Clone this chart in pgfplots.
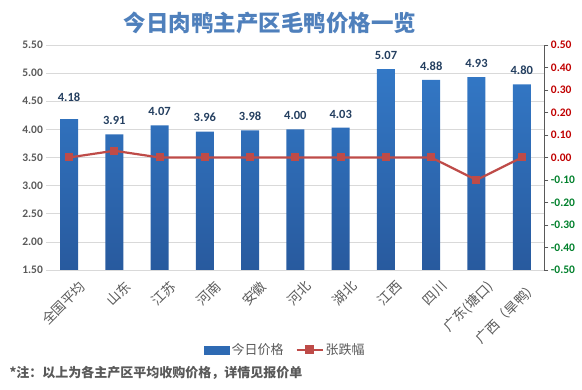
\documentclass[border=0pt]{standalone}
\usepackage{pgfplots}
\pgfplotsset{compat=1.18}
\usepackage{pgfplotstable}
\usepackage{fontspec}
\setmainfont{Noto Sans CJK SC}
\newfontfamily\numfont{Carlito}
\definecolor{barTop}{HTML}{3378C6}
\definecolor{barBot}{HTML}{285A9E}
\definecolor{barblue}{HTML}{2E6AB3}
\definecolor{linered}{HTML}{BE4B48}
\definecolor{titleblue}{HTML}{4F80BC}
\definecolor{labgray}{HTML}{595959}
\definecolor{gridgray}{HTML}{D9D9D9}
\definecolor{valblue}{HTML}{243F60}
\definecolor{posred}{HTML}{C00000}
\definecolor{neggreen}{HTML}{00802B}

\pgfplotstableread{
x price off chg
0 4.18 14 0
1 3.91 6 0.03
2 4.07 6 0
3 3.96 6 0
4 3.98 6 0
5 4.00 6 0
6 4.03 6 0
7 5.07 6 0
8 4.88 6 0
9 4.93 6 -0.10
10 4.80 6 0
}\datatable

\begin{document}
\begin{tikzpicture}
\path[use as bounding box] (0pt,0pt) rectangle (582pt,-390pt);
\begin{axis}[
  at={(46.4pt,-270pt)}, anchor=south west,
  scale only axis, width=498pt, height=225pt,
  xmin=-0.5, xmax=10.5, ymin=1.5, ymax=5.5,
  ytick={1.5,2,2.5,3,3.5,4,4.5,5,5.5},
  /pgf/number format/assume math mode=true,
  yticklabel style={/pgf/number format/.cd, fixed, fixed zerofill, precision=2, /tikz/.cd,
     font=\numfont\bfseries\fontsize{11.5}{13}\selectfont, text=labgray},
  axis y line*=left, y axis line style={draw=none},
  ytick style={draw=none},
  ymajorgrids, grid style={gridgray, line width=0.7pt},
  axis x line*=bottom, x axis line style={gridgray, line width=0.7pt},
  xtick={0,...,10}, xtick style={draw=none},
  xticklabels={全国平均,山东,江苏,河南,安徽,河北,湖北,江西,四川,广东(塘口),广西（旱鸭）},
  xticklabel style={rotate=45, anchor=north east, font=\fontsize{13.5}{15}\selectfont, text=labgray, inner sep=1pt, yshift=-9pt, xshift=4pt},
  ybar, bar width=18pt,
  nodes near coords,
  visualization depends on={\thisrow{off}\as\myoff},
  nodes near coords style={/pgf/number format/.cd, fixed, fixed zerofill, precision=2, /tikz/.cd,
     font=\numfont\bfseries\fontsize{12.5}{14}\selectfont, text=valblue, anchor=south, yshift=\myoff pt},
  clip=false,
]
\addplot[draw=none, top color=barTop, bottom color=barBot] table[x=x, y=price] {\datatable};
\end{axis}
\begin{axis}[
  at={(46.4pt,-270pt)}, anchor=south west,
  scale only axis, width=498pt, height=225pt,
  xmin=-0.5, xmax=10.5, ymin=-0.5, ymax=0.5,
  axis x line=none,
  axis y line*=right, y axis line style={labgray, line width=0.6pt},
  ytick={-0.5,-0.4,-0.3,-0.2,-0.1,0,0.1,0.2,0.3,0.4,0.5},
  yticklabels={\textcolor{neggreen}{-0.50},\textcolor{neggreen}{-0.40},\textcolor{neggreen}{-0.30},\textcolor{neggreen}{-0.20},\textcolor{neggreen}{-0.10},\textcolor{posred}{0.00},\textcolor{posred}{0.10},\textcolor{posred}{0.20},\textcolor{posred}{0.30},\textcolor{posred}{0.40},\textcolor{posred}{0.50}},
  yticklabel style={font=\numfont\bfseries\fontsize{11.5}{13}\selectfont, xshift=-1pt},
  tick align=outside, major tick length=4pt, ytick style={labgray, line width=0.6pt},
  legend style={at={(0.48,-0.355)}, anchor=center, draw=none, fill=none,
     legend columns=2, font=\fontsize{13}{15}\selectfont, text=labgray,
     /tikz/every even column/.append style={column sep=10pt}},
  clip=false,
]
\addlegendimage{legend image code/.code={\fill[barblue] (0pt,-4pt) rectangle (25pt,4pt);}}
\addlegendentry{今日价格}
\addplot[linered, line width=2.2pt, mark=square*, mark size=3.5pt, mark options={fill=linered, line width=0pt},
  legend image code/.code={\draw[linered, line width=2.2pt] (0pt,0pt) -- (26pt,0pt); \fill[linered] (9.5pt,-3.5pt) rectangle (16.5pt,3.5pt);}]
  table[x=x, y=chg] {\datatable};
\addlegendentry{张跌幅}
\end{axis}
\node[font=\bfseries\fontsize{22.5}{24}\selectfont, text=titleblue] at (270pt,-23pt) {今日肉鸭主产区毛鸭价格一览};
\node[anchor=west, font=\bfseries\fontsize{13}{15}\selectfont, text=labgray] at (6pt,-373pt) {*注：以上为各主产区平均收购价格，详情见报价单};
\end{tikzpicture}
\end{document}
